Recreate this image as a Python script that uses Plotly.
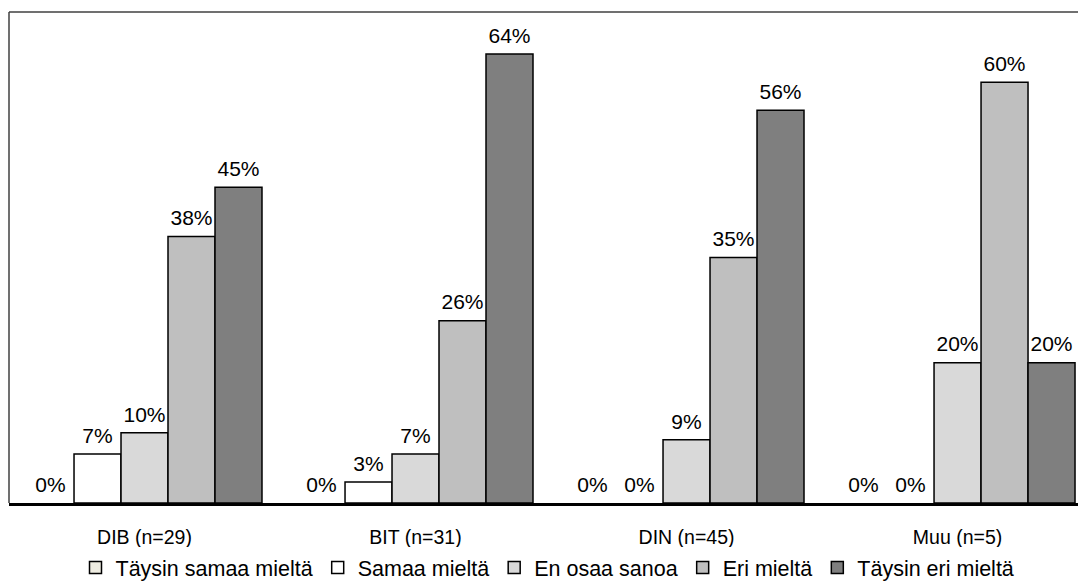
import plotly.graph_objects as go

categories = ["DIB (n=29)", "BIT (n=31)", "DIN (n=45)", "Muu (n=5)"]
series_names = ["Täysin samaa mieltä", "Samaa mieltä", "En osaa sanoa", "Eri mieltä", "Täysin eri mieltä"]
taysin_samaa = [0, 0, 0, 0]
samaa = [7, 3, 0, 0]
en_osaa = [10, 7, 9, 20]
eri = [38, 26, 35, 60]
taysin_eri = [45, 64, 56, 20]
values = [taysin_samaa, samaa, en_osaa, eri, taysin_eri]
colors = ["#eeece1", "#ffffff", "#d9d9d9", "#bfbfbf", "#7f7f7f"]

FONT = "Liberation Sans Narrow, Arial Narrow, Liberation Sans, Arial, sans-serif"
GAP = 0.133

fig = go.Figure()
for i, (name, vals, col) in enumerate(zip(series_names, values, colors)):
    fig.add_trace(go.Bar(
        x=categories, y=[v if v != 0 else None for v in vals], name=name,
        offsetgroup=f"g{i}",
        marker=dict(color=col, line=dict(color="black", width=1.5)),
        cliponaxis=False, hoverinfo="skip",
    ))
for i, vals in enumerate(values):
    fig.add_trace(go.Scatter(
        x=categories, y=vals, offsetgroup=f"g{i}", mode="markers+text",
        marker=dict(size=8, opacity=0), text=[f"{v}%" for v in vals],
        textposition="top center", textfont=dict(size=21, color="black", family=FONT),
        showlegend=False, cliponaxis=False, hoverinfo="skip",
    ))

fig.update_layout(
    width=1078, height=580,
    barmode="group", bargap=GAP, bargroupgap=0,
    scattermode="group", scattergap=GAP,
    plot_bgcolor="white", paper_bgcolor="white",
    margin=dict(l=1, r=0, t=4, b=82),
    font=dict(family=FONT, color="black"),
    showlegend=True,
    legend=dict(orientation="h", x=0.5, xanchor="center", y=-0.09, yanchor="top",
                font=dict(size=21.5, family=FONT, color="black"),
                itemwidth=30, tracegroupgap=0),
    xaxis=dict(range=[-0.5, 3.474], showline=True, linecolor="black", linewidth=2.5,
               ticks="", tickfont=dict(size=19.5, family=FONT, color="black"),
               ticklabelstandoff=15, showgrid=False, mirror=False),
    yaxis=dict(range=[0, 70], showticklabels=False, showgrid=False, zeroline=False,
               showline=False),
)
# chart frame (top and left edges)
fig.add_shape(type="line", xref="paper", yref="paper", x0=0, x1=1, y0=1, y1=1,
              line=dict(color="#404040", width=1.5))
fig.add_shape(type="line", xref="paper", yref="paper", x0=0, x1=0, y0=0, y1=1,
              line=dict(color="#404040", width=1.5))

fig.write_html("out.html")
